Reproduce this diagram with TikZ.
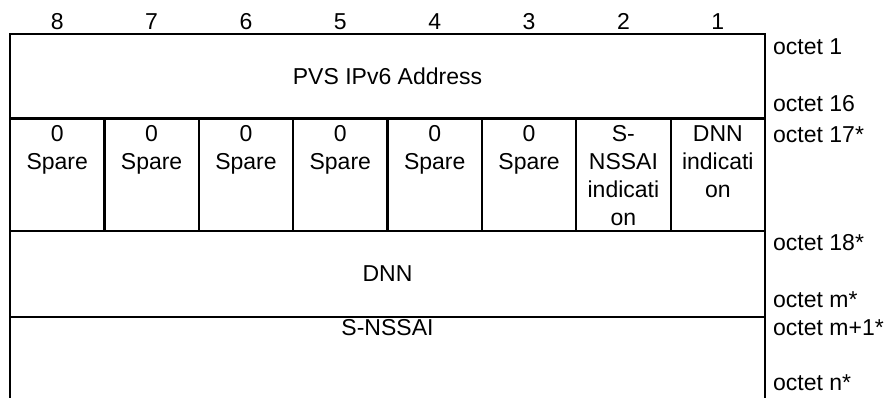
\documentclass[tikz,border=0pt]{standalone}
\usepackage{fontspec}
\setmainfont{Liberation Sans}
\tikzset{
    bitnum/.style={
        anchor=base,
        inner sep=0pt,
        font=\fontsize{23}{28}\selectfont
    },
    field/.style={
        anchor=base,
        inner sep=0pt,
        font=\fontsize{23}{28}\selectfont
    },
    flag/.style={
        anchor=north,
        inner sep=0pt,
        align=center,
        font=\fontsize{23}{28}\selectfont
    },
    octet/.style={
        anchor=base west,
        inner sep=0pt,
        font=\fontsize{23}{28}\selectfont
    },
    frame/.style={
        line width=2.2pt
    }
}

\begin{document}
\begin{tikzpicture}[x=1pt,y=-1pt]
\useasboundingbox (0,0) rectangle (891,398);

% bit numbers
\node[bitnum] (b8) at (57.2,30) {8};
\node[bitnum] (b7) at (151.6,30) {7};
\node[bitnum] (b6) at (246.0,30) {6};
\node[bitnum] (b5) at (340.3,30) {5};
\node[bitnum] (b4) at (434.7,30) {4};
\node[bitnum] (b3) at (529.1,30) {3};
\node[bitnum] (b2) at (623.4,30) {2};
\node[bitnum] (b1) at (717.8,30) {1};

% frame
\draw[frame] (10,398) -- (10,34.3) -- (765,34.3) -- (765,398);
\draw[frame] (10,118.5) -- (765,118.5);
\draw[frame] (10,231) -- (765,231);
\draw[frame] (10,317.3) -- (765,317.3);
\draw[frame] (104.4,118.5) -- (104.4,231);
\draw[frame] (198.75,118.5) -- (198.75,231);
\draw[frame] (293.1,118.5) -- (293.1,231);
\draw[frame] (387.5,118.5) -- (387.5,231);
\draw[frame] (481.9,118.5) -- (481.9,231);
\draw[frame] (576.25,118.5) -- (576.25,231);
\draw[frame] (670.6,118.5) -- (670.6,231);

% fields
\node[field] (pvs) at (387.5,84.3) {PVS IPv6 Address};
\node[flag] (sp8) at (57.2,125.5) {0\\Spare};
\node[flag] (sp7) at (151.6,125.5) {0\\Spare};
\node[flag] (sp6) at (246.0,125.5) {0\\Spare};
\node[flag] (sp5) at (340.3,125.5) {0\\Spare};
\node[flag] (sp4) at (434.7,125.5) {0\\Spare};
\node[flag] (sp3) at (529.1,125.5) {0\\Spare};
\node[flag] (snssaiind) at (623.4,125.5) {S-\\NSSAI\\indicati\\on};
\node[flag] (dnnind) at (717.8,125.5) {DNN\\indicati\\on};
\node[field] (dnn) at (387.5,281.7) {DNN};
\node[field] (snssai) at (387.5,335) {S-NSSAI};

% octet labels
\node[octet] (o1) at (773,55) {octet 1};
\node[octet] (o16) at (773,112) {octet 16};
\node[octet] (o17) at (773,143) {octet 17*};
\node[octet] (o18) at (773,250) {octet 18*};
\node[octet] (om) at (773,307) {octet m*};
\node[octet] (om1) at (773,335) {octet m+1*};
\node[octet] (on) at (773,390) {octet n*};

\end{tikzpicture}
\end{document}
